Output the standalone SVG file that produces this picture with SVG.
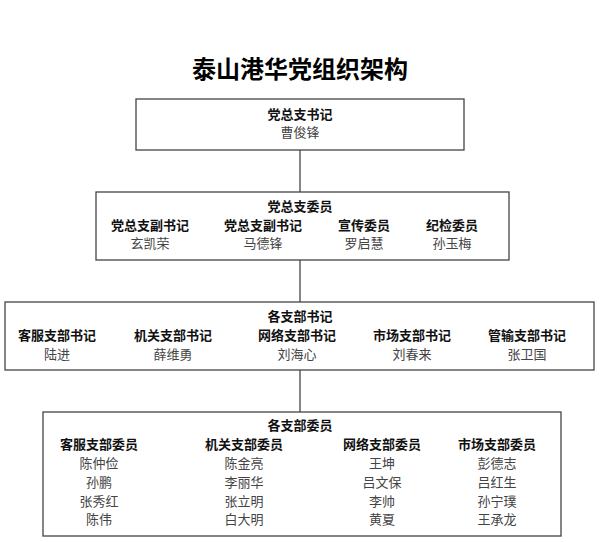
<svg xmlns="http://www.w3.org/2000/svg" width="600" height="542" viewBox="0 0 600 542">
<style>
text{font-family:"Noto Sans CJK SC","Noto Sans",sans-serif;text-anchor:middle;font-size:13px}
.t{font-size:24px;font-weight:bold;fill:#000}
.h{font-weight:bold;fill:#111}
.n{fill:#444}
rect{fill:#fff;stroke:#444;stroke-width:1.3}
line{stroke:#444;stroke-width:1.3}
</style>
<rect x="0" y="0" width="600" height="542" style="fill:#fff;stroke:none"/>
<text class="t" x="300" y="78">泰山港华党组织架构</text>
<g id="connectors">
<line x1="300" y1="150" x2="300" y2="192"/>
<line x1="300" y1="260" x2="300" y2="302"/>
<line x1="300" y1="370" x2="300" y2="412"/>
</g>
<g id="n1">
<rect x="136" y="99" width="328" height="51"/>
<text class="h" x="300" y="119">党总支书记</text>
<text class="n" x="300" y="137">曹俊锋</text>
</g>
<g id="n2">
<rect x="96" y="192" width="413" height="68"/>
<text class="h" x="300" y="211">党总支委员</text>
<text class="h" x="150" y="230">党总支副书记</text><text class="n" x="150" y="248">玄凯荣</text>
<text class="h" x="263" y="230">党总支副书记</text><text class="n" x="263" y="248">马德锋</text>
<text class="h" x="364" y="230">宣传委员</text><text class="n" x="364" y="248">罗启慧</text>
<text class="h" x="452" y="230">纪检委员</text><text class="n" x="452" y="248">孙玉梅</text>
</g>
<g id="n3">
<rect x="5" y="302" width="589" height="68"/>
<text class="h" x="300" y="321">各支部书记</text>
<text class="h" x="57" y="340">客服支部书记</text><text class="n" x="57" y="359">陆进</text>
<text class="h" x="173" y="340">机关支部书记</text><text class="n" x="173" y="359">薛维勇</text>
<text class="h" x="297" y="340">网络支部书记</text><text class="n" x="297" y="359">刘海心</text>
<text class="h" x="412" y="340">市场支部书记</text><text class="n" x="412" y="359">刘春来</text>
<text class="h" x="527" y="340">管输支部书记</text><text class="n" x="527" y="359">张卫国</text>
</g>
<g id="n4">
<rect x="43" y="412" width="518" height="124"/>
<text class="h" x="300" y="430">各支部委员</text>
<text class="h" x="99" y="449">客服支部委员</text>
<text class="n" x="99" y="468">陈仲俭</text><text class="n" x="99" y="487">孙鹏</text><text class="n" x="99" y="506">张秀红</text><text class="n" x="99" y="524">陈伟</text>
<text class="h" x="244" y="449">机关支部委员</text>
<text class="n" x="244" y="468">陈金亮</text><text class="n" x="244" y="487">李丽华</text><text class="n" x="244" y="506">张立明</text><text class="n" x="244" y="524">白大明</text>
<text class="h" x="382" y="449">网络支部委员</text>
<text class="n" x="382" y="468">王坤</text><text class="n" x="382" y="487">吕文保</text><text class="n" x="382" y="506">李帅</text><text class="n" x="382" y="524">黄夏</text>
<text class="h" x="497" y="449">市场支部委员</text>
<text class="n" x="497" y="468">彭德志</text><text class="n" x="497" y="487">吕红生</text><text class="n" x="497" y="506">孙宁璞</text><text class="n" x="497" y="524">王承龙</text>
</g>
</svg>
